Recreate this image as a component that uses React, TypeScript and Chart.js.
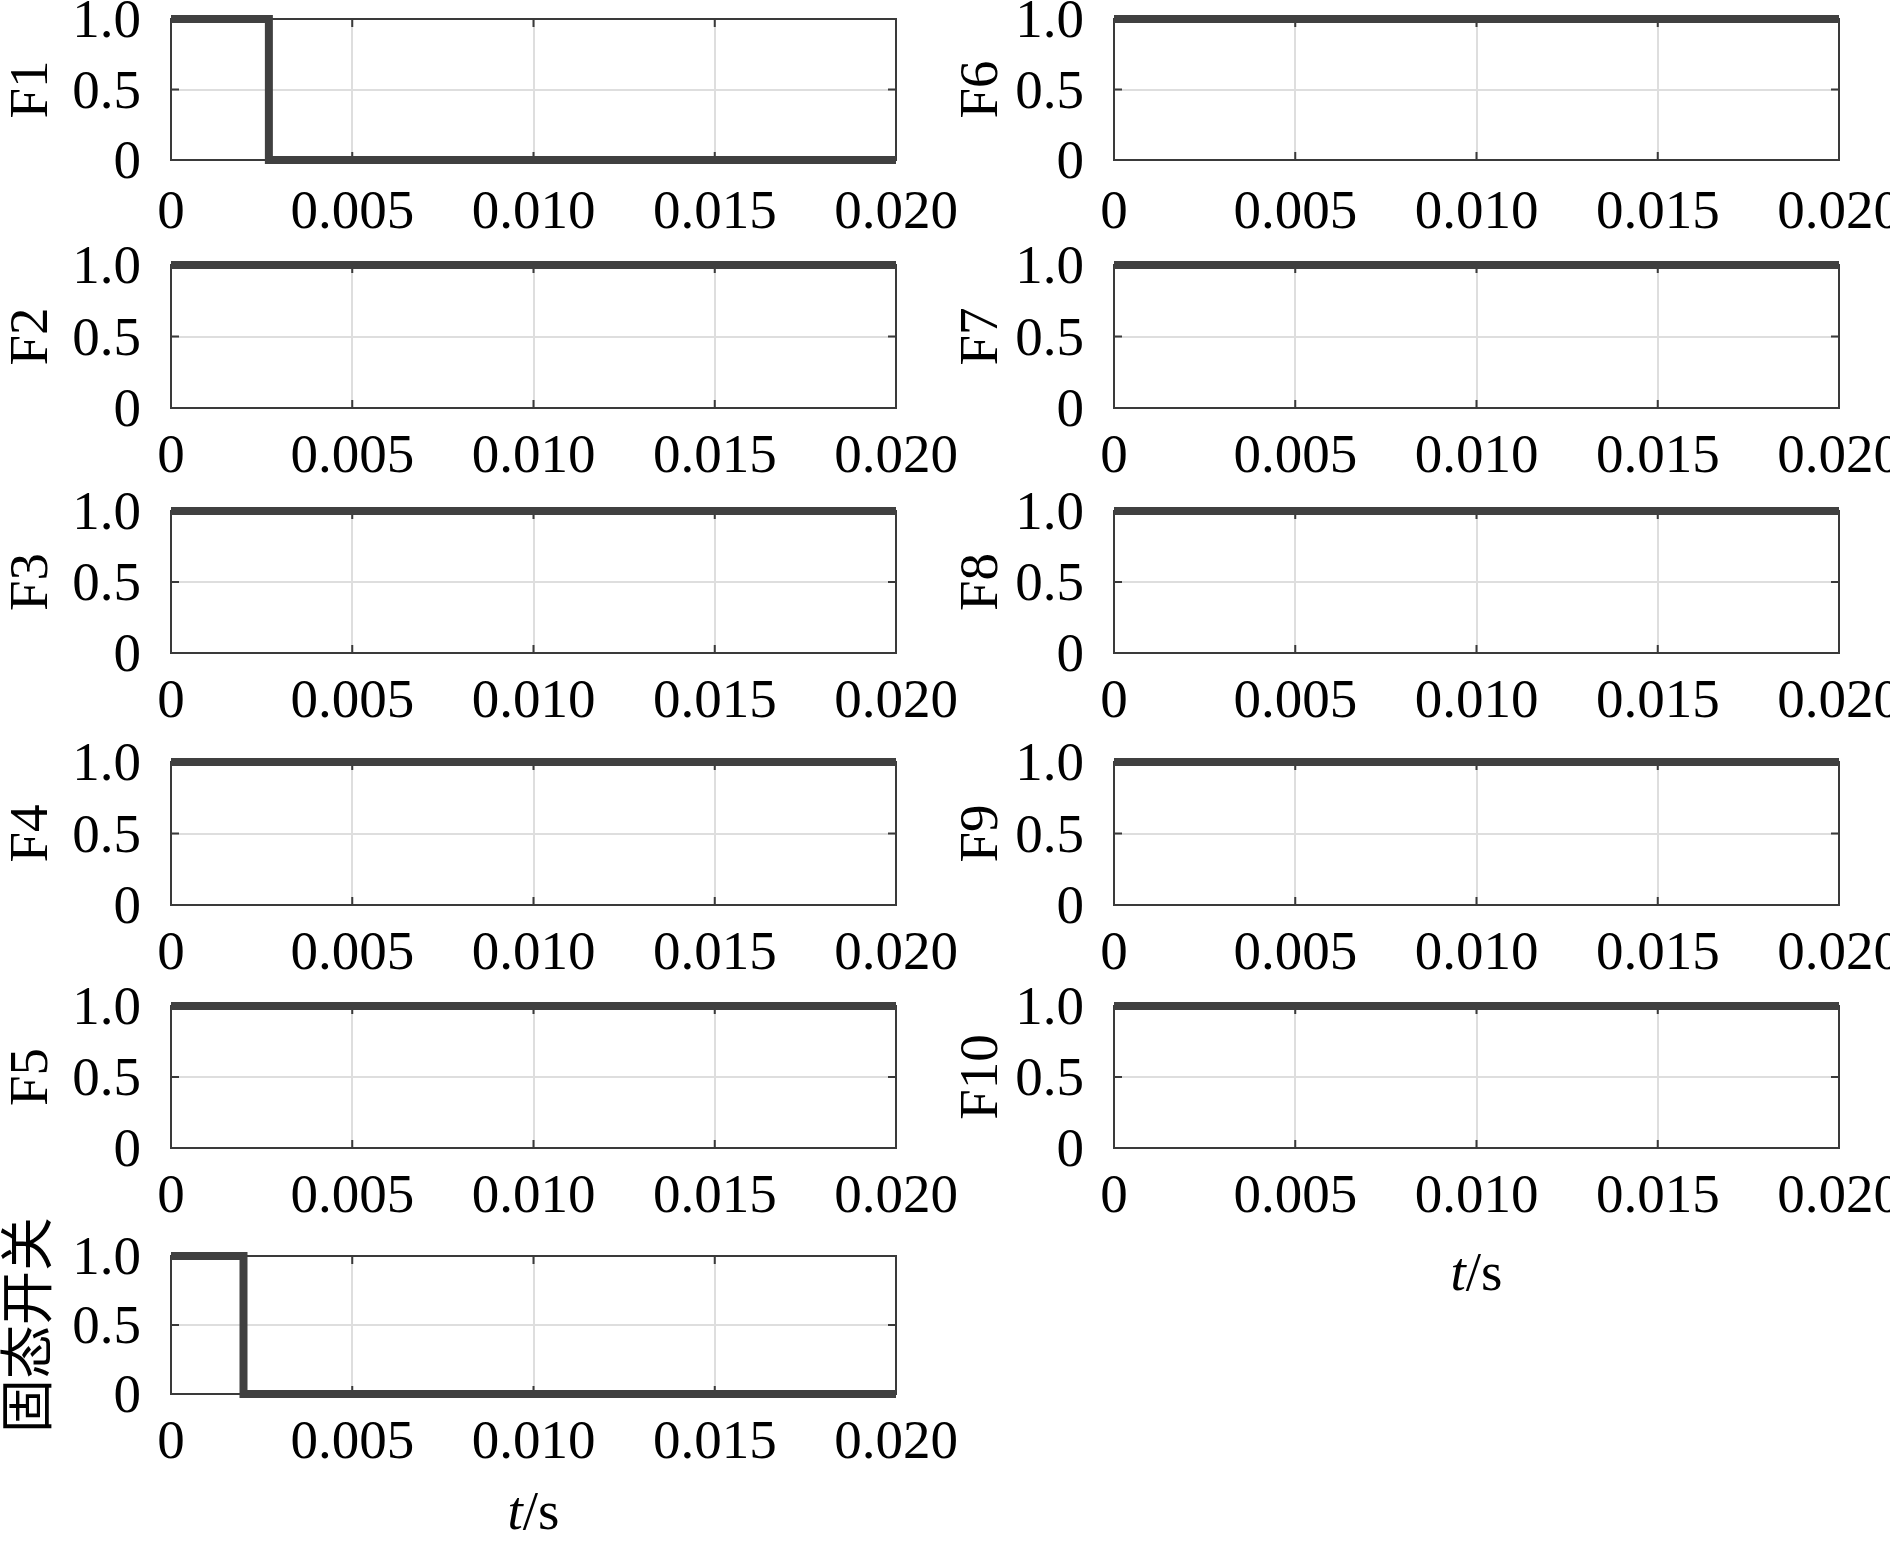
import React, { useEffect, useRef } from "react";
import { Chart, registerables } from "chart.js";

Chart.register(...registerables);

// ---------- data ----------
const TIME_TICKS = [0, 0.005, 0.01, 0.015, 0.02];
const TIME_TICK_LABELS = ["0", "0.005", "0.010", "0.015", "0.020"];
const STATE_TICKS = [0, 0.5, 1];
const STATE_TICK_LABELS = ["0", "0.5", "1.0"];

const T_F1 = [0, 0.0027, 0.0027, 0.02];
const V_F1 = [1, 1, 0, 0];
const T_FLAT = [0, 0.02];
const V_F2 = [1, 1];
const V_F3 = [1, 1];
const V_F4 = [1, 1];
const V_F5 = [1, 1];
const V_F6 = [1, 1];
const V_F7 = [1, 1];
const V_F8 = [1, 1];
const V_F9 = [1, 1];
const V_F10 = [1, 1];
const T_SSS = [0, 0.002, 0.002, 0.02];
const V_SSS = [1, 1, 0, 0];

const X_TITLE_ITALIC = "t";
const X_TITLE_REST = "/s";

// ---------- layout (geometry only) ----------
const ROW_TOP = [19, 265, 511, 762, 1006, 1256];
const ROW_BOTTOM = [160, 408, 653, 905, 1148, 1394];
const ROW_XLABEL_PAD = [21, 17, 17, 17, 17, 17];
const COL_PLOT_LEFT = [171, 1114];
const COL_PLOT_RIGHT = [896, 1839];
const COL_CANVAS_LEFT = [0, 950];
const COL_XTITLE_OFFSET = [135, 142];
const CANVAS_WIDTH = 1010;
const PAD_TOP = 80;
const X_AXIS_H = 180;

const FONT_FAMILY = "'Liberation Serif', 'Noto Sans CJK SC', serif";
const FONT_SIZE = 55;
const LINE_COLOR = "#404040";
const FRAME_COLOR = "#3a3a3a";
const GRID_COLOR = "#dedede";

type PanelDef = {
  name: string;
  t: number[];
  v: number[];
  col: number;
  row: number;
  xTitle: boolean;
};

const PANELS: PanelDef[] = [
  { name: "F1", t: T_F1, v: V_F1, col: 0, row: 0, xTitle: false },
  { name: "F2", t: T_FLAT, v: V_F2, col: 0, row: 1, xTitle: false },
  { name: "F3", t: T_FLAT, v: V_F3, col: 0, row: 2, xTitle: false },
  { name: "F4", t: T_FLAT, v: V_F4, col: 0, row: 3, xTitle: false },
  { name: "F5", t: T_FLAT, v: V_F5, col: 0, row: 4, xTitle: false },
  { name: "固态开关", t: T_SSS, v: V_SSS, col: 0, row: 5, xTitle: true },
  { name: "F6", t: T_FLAT, v: V_F6, col: 1, row: 0, xTitle: false },
  { name: "F7", t: T_FLAT, v: V_F7, col: 1, row: 1, xTitle: false },
  { name: "F8", t: T_FLAT, v: V_F8, col: 1, row: 2, xTitle: false },
  { name: "F9", t: T_FLAT, v: V_F9, col: 1, row: 3, xTitle: false },
  { name: "F10", t: T_FLAT, v: V_F10, col: 1, row: 4, xTitle: true },
];

const framePlugin = {
  id: "frame",
  beforeDatasetsDraw(chart: any) {
    const { ctx, chartArea } = chart;
    const xs = chart.scales.x;
    const ys = chart.scales.y;
    const { left, right, top, bottom } = chartArea;
    ctx.save();
    ctx.strokeStyle = FRAME_COLOR;
    ctx.lineWidth = 2;
    ctx.strokeRect(left, top, right - left, bottom - top);
    const tl = 8;
    ctx.beginPath();
    for (const v of TIME_TICKS) {
      const px = xs.getPixelForValue(v);
      ctx.moveTo(px, bottom);
      ctx.lineTo(px, bottom - tl);
      ctx.moveTo(px, top);
      ctx.lineTo(px, top + tl);
    }
    for (const v of STATE_TICKS) {
      const py = ys.getPixelForValue(v);
      ctx.moveTo(left, py);
      ctx.lineTo(left + tl, py);
      ctx.moveTo(right, py);
      ctx.lineTo(right - tl, py);
    }
    ctx.stroke();
    ctx.restore();
  },
  afterDraw(chart: any, _args: any, opts: any) {
    if (!opts || !opts.xTitle) return;
    const { ctx, chartArea } = chart;
    const cx = (chartArea.left + chartArea.right) / 2;
    const y = chartArea.bottom + opts.xTitleOffset;
    ctx.save();
    ctx.fillStyle = "#000";
    ctx.textBaseline = "alphabetic";
    ctx.textAlign = "left";
    const fi = `italic ${FONT_SIZE}px ${FONT_FAMILY}`;
    const fr = `${FONT_SIZE}px ${FONT_FAMILY}`;
    ctx.font = fi;
    const w1 = ctx.measureText(X_TITLE_ITALIC).width;
    ctx.font = fr;
    const w2 = ctx.measureText(X_TITLE_REST).width;
    const x0 = cx - (w1 + w2) / 2;
    ctx.font = fi;
    ctx.fillText(X_TITLE_ITALIC, x0, y);
    ctx.font = fr;
    ctx.fillText(X_TITLE_REST, x0 + w1, y);
    ctx.restore();
  },
};

function Panel({ def }: { def: PanelDef }) {
  const ref = useRef<HTMLCanvasElement>(null);
  const plotTop = ROW_TOP[def.row];
  const plotBottom = ROW_BOTTOM[def.row];
  const plotH = plotBottom - plotTop;
  const canvasLeft = COL_CANVAS_LEFT[def.col];
  const canvasTop = plotTop - PAD_TOP;
  const canvasH = PAD_TOP + plotH + X_AXIS_H;
  const yAxisW = COL_PLOT_LEFT[def.col] - canvasLeft;
  const padRight = canvasLeft + CANVAS_WIDTH - COL_PLOT_RIGHT[def.col];

  useEffect(() => {
    if (!ref.current) return;
    const points = def.t.map((t, i) => ({ x: t, y: def.v[i] }));
    const isCJK = /[\u4e00-\u9fff]/.test(def.name);
    const chart = new Chart(ref.current, {
      type: "line",
      data: {
        datasets: [
          {
            data: points,
            borderColor: LINE_COLOR,
            borderWidth: 8,
            pointRadius: 0,
            tension: 0,
            fill: false,
            borderJoinStyle: "miter",
            borderCapStyle: "butt",
            clip: false as any,
          },
        ],
      },
      options: {
        responsive: false,
        animation: false,
        devicePixelRatio: 1,
        layout: { padding: { top: PAD_TOP, left: 0, right: padRight, bottom: 0 } },
        plugins: {
          legend: { display: false },
          tooltip: { enabled: false },
          frame: { xTitle: def.xTitle, xTitleOffset: COL_XTITLE_OFFSET[def.col] },
        } as any,
        scales: {
          x: {
            type: "linear",
            min: 0,
            max: 0.02,
            afterBuildTicks: (s: any) => {
              s.ticks = TIME_TICKS.map((v) => ({ value: v }));
            },
            afterFit: (s: any) => {
              s.height = X_AXIS_H;
            },
            ticks: {
              autoSkip: false,
              maxRotation: 0,
              padding: ROW_XLABEL_PAD[def.row],
              color: "#000",
              font: { family: FONT_FAMILY, size: FONT_SIZE },
              callback: (_v: any, i: number) => TIME_TICK_LABELS[i],
            },
            grid: { color: GRID_COLOR, lineWidth: 2, drawTicks: false },
            border: { display: false },
          },
          y: {
            type: "linear",
            min: 0,
            max: 1,
            afterBuildTicks: (s: any) => {
              s.ticks = STATE_TICKS.map((v) => ({ value: v }));
            },
            afterFit: (s: any) => {
              s.width = yAxisW;
            },
            ticks: {
              autoSkip: false,
              padding: 30,
              labelOffset: 4,
              color: "#000",
              font: { family: FONT_FAMILY, size: FONT_SIZE },
              callback: (_v: any, i: number) => STATE_TICK_LABELS[i],
            },
            grid: { color: GRID_COLOR, lineWidth: 2, drawTicks: false },
            border: { display: false },
            title: {
              display: true,
              text: def.name,
              color: "#000",
              padding: { top: 0, bottom: 0 },
              font: { family: FONT_FAMILY, size: isCJK ? 54 : FONT_SIZE },
            },
          },
        },
      },
      plugins: [framePlugin as any],
    });
    return () => chart.destroy();
  }, []);

  return (
    <canvas
      ref={ref}
      width={CANVAS_WIDTH}
      height={canvasH}
      style={{
        position: "absolute",
        left: canvasLeft,
        top: canvasTop,
        width: CANVAS_WIDTH,
        height: canvasH,
        display: "block",
      }}
    />
  );
}

export default function App() {
  return (
    <div
      style={{
        position: "absolute",
        left: 0,
        top: 0,
        width: 1890,
        height: 1550,
        overflow: "hidden",
        background: "#fff",
      }}
    >
      {PANELS.map((p) => (
        <Panel key={p.name} def={p} />
      ))}
    </div>
  );
}
